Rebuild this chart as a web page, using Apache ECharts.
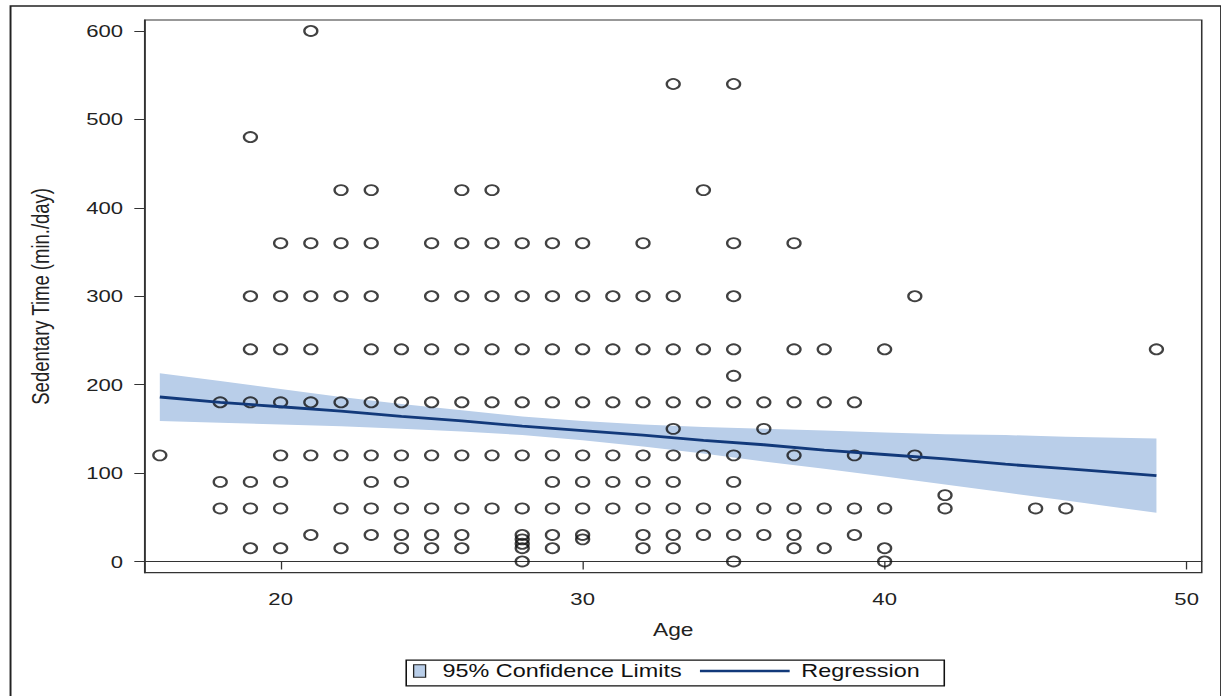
<!DOCTYPE html>
<html>
<head>
<meta charset="utf-8">
<title>Sedentary Time by Age</title>
<script src="https://cdn.jsdelivr.net/npm/echarts@6/dist/echarts.min.js"></script>
<style>
  html, body { margin: 0; padding: 0; background: #fff; overflow: hidden; }
  /* the reference image is stretched sideways, so draw narrow and widen it */
  #chart { width: 939px; height: 696px; transform: scaleX(1.3003); transform-origin: 0 0; }
</style>
</head>
<body>
<div id="chart"></div>
<script>
const xTicks = [20, 30, 40, 50];
const yTicks = [0, 100, 200, 300, 400, 500, 600];

// sedentary minutes per day, and the ages seen at each level
const minuteLevels = [600, 540, 480, 420, 360, 300, 240, 210, 180, 150, 120, 90, 75, 60, 30, 25, 20, 15, 0];
const agesAtLevel = [
  [21],
  [33, 35],
  [19],
  [22, 23, 26, 27, 34],
  [20, 21, 22, 23, 25, 26, 27, 28, 29, 30, 32, 35, 37],
  [19, 20, 21, 22, 23, 25, 26, 27, 28, 29, 30, 31, 32, 33, 35, 41],
  [19, 20, 21, 23, 24, 25, 26, 27, 28, 29, 30, 31, 32, 33, 34, 35, 37, 38, 40, 49],
  [35],
  [18, 19, 20, 21, 22, 23, 24, 25, 26, 27, 28, 29, 30, 31, 32, 33, 34, 35, 36, 37, 38, 39],
  [33, 36],
  [16, 20, 21, 22, 23, 24, 25, 26, 27, 28, 29, 30, 31, 32, 33, 34, 35, 37, 39, 41],
  [18, 19, 20, 23, 24, 29, 30, 31, 32, 33, 35],
  [42],
  [18, 19, 20, 22, 23, 24, 25, 26, 27, 28, 29, 30, 31, 32, 33, 34, 35, 36, 37, 38, 39, 40, 42, 45, 46],
  [21, 23, 24, 25, 26, 28, 29, 30, 32, 33, 34, 35, 36, 37, 39],
  [28, 30],
  [28],
  [19, 20, 22, 24, 25, 26, 28, 29, 32, 33, 37, 38, 40],
  [28, 35, 40]
];

// fitted line and 95% limits
const bandAge = [16, 18, 20, 22, 24, 26, 28, 30, 32, 34, 36, 38, 40, 42, 44, 46, 49];
const regFit  = [186, 180, 175, 170, 164, 159, 153, 148, 143, 137, 132, 126, 121, 116, 110, 105, 97];
const ciUpper = [213, 204, 195, 186, 178, 171, 164, 159, 155, 152, 150, 148, 146, 144, 143, 141, 139];
const ciLower = [159, 157, 155, 153, 150, 147, 143, 137, 130, 122, 113, 105, 96, 87, 78, 69, 55];

const points = [];
minuteLevels.forEach((m, i) => {
  agesAtLevel[i].forEach((a) => points.push([a, m]));
});

const font = "'Liberation Sans', Arial, sans-serif";
const bandColor = "#b9cee9";
const lineColor = "#12397a";

function renderBand(params, api) {
  if (params.dataIndex !== 0) {
    return null;
  }
  const upper = bandAge.map((a, i) => api.coord([a, ciUpper[i]]));
  const lower = bandAge.map((a, i) => api.coord([a, ciLower[i]])).reverse();
  return {
    type: "polygon",
    shape: { points: upper.concat(lower) },
    style: { fill: api.visual("color") },
    silent: true
  };
}

const chart = echarts.init(document.getElementById("chart"), null, { renderer: "svg" });

const option = {
  animation: false,
  backgroundColor: "#fff",
  textStyle: { fontFamily: font },
  grid: {
    left: 111.3,
    right: 14.8,
    top: 20,
    bottom: 123.3,
    show: true,
    borderColor: "#333",
    borderWidth: 1.2
  },
  xAxis: {
    type: "value",
    min: 15.5,
    max: 50.5,
    name: "Age",
    nameLocation: "middle",
    nameGap: 48,
    nameTextStyle: { fontSize: 17.5, color: "#222", fontFamily: font },
    axisLine: { lineStyle: { color: "#333", width: 1.2 } },
    axisTick: { length: 8, lineStyle: { color: "#333" }, customValues: xTicks },
    axisLabel: { fontSize: 17, color: "#222", margin: 18, fontFamily: font, customValues: xTicks },
    splitLine: { show: false }
  },
  yAxis: {
    type: "value",
    min: -12.7,
    max: 612.4,
    name: "Sedentary Time (min./day)",
    nameLocation: "middle",
    nameGap: 70,
    nameTextStyle: { fontSize: 18.5, color: "#222", fontFamily: font },
    axisLine: { show: true, lineStyle: { color: "#333", width: 1.2 } },
    axisTick: { show: true, length: 8, lineStyle: { color: "#333" }, customValues: yTicks },
    axisLabel: { fontSize: 17, color: "#222", margin: 16.7, fontFamily: font, customValues: yTicks },
    splitLine: { show: false }
  },
  legend: [
    {
      data: [{ name: "95% Confidence Limits", icon: "rect" }],
      left: 317.6,
      top: 662,
      padding: 0,
      itemWidth: 9.2,
      itemHeight: 12.5,
      selectedMode: false,
      itemStyle: { borderColor: "#222", borderWidth: 1 },
      textStyle: { fontSize: 18, color: "#111", fontFamily: font, padding: [0, 0, 0, 8] }
    },
    {
      data: [{ name: "Regression", icon: "rect" }],
      left: 538.3,
      top: 662,
      padding: 0,
      itemWidth: 69,
      itemHeight: 2.6,
      selectedMode: false,
      itemStyle: { color: lineColor, borderWidth: 0 },
      textStyle: { fontSize: 18, color: "#111", fontFamily: font, padding: [0, 0, 0, 4] }
    }
  ],
  graphic: [
    {
      type: "rect",
      left: 309.9,
      top: 657.7,
      shape: { width: 413.8, height: 25.6 },
      style: { fill: "none", stroke: "#111", lineWidth: 1.2 },
      silent: true
    },
    {
      type: "rect",
      left: 5.6,
      top: 3.5,
      shape: { width: 931, height: 720 },
      style: { fill: "none", stroke: "#222", lineWidth: 1.5 },
      silent: true
    }
  ],
  series: [
    {
      name: "95% Confidence Limits",
      type: "custom",
      renderItem: renderBand,
      data: bandAge.map((a, i) => [a, ciUpper[i], ciLower[i]]),
      encode: { x: 0, y: [1, 2] },
      itemStyle: { color: bandColor },
      z: 1
    },
    {
      name: "Observed",
      type: "scatter",
      data: points,
      symbol: "circle",
      symbolSize: 10,
      itemStyle: { color: "rgba(0,0,0,0)", borderColor: "#111", borderWidth: 1.8 },
      z: 2
    },
    {
      name: "Regression",
      type: "line",
      data: bandAge.map((a, i) => [a, regFit[i]]),
      showSymbol: false,
      symbol: "none",
      lineStyle: { color: lineColor, width: 2.8 },
      itemStyle: { color: lineColor },
      z: 3
    }
  ]
};

chart.setOption(option);
</script>
</body>
</html>
